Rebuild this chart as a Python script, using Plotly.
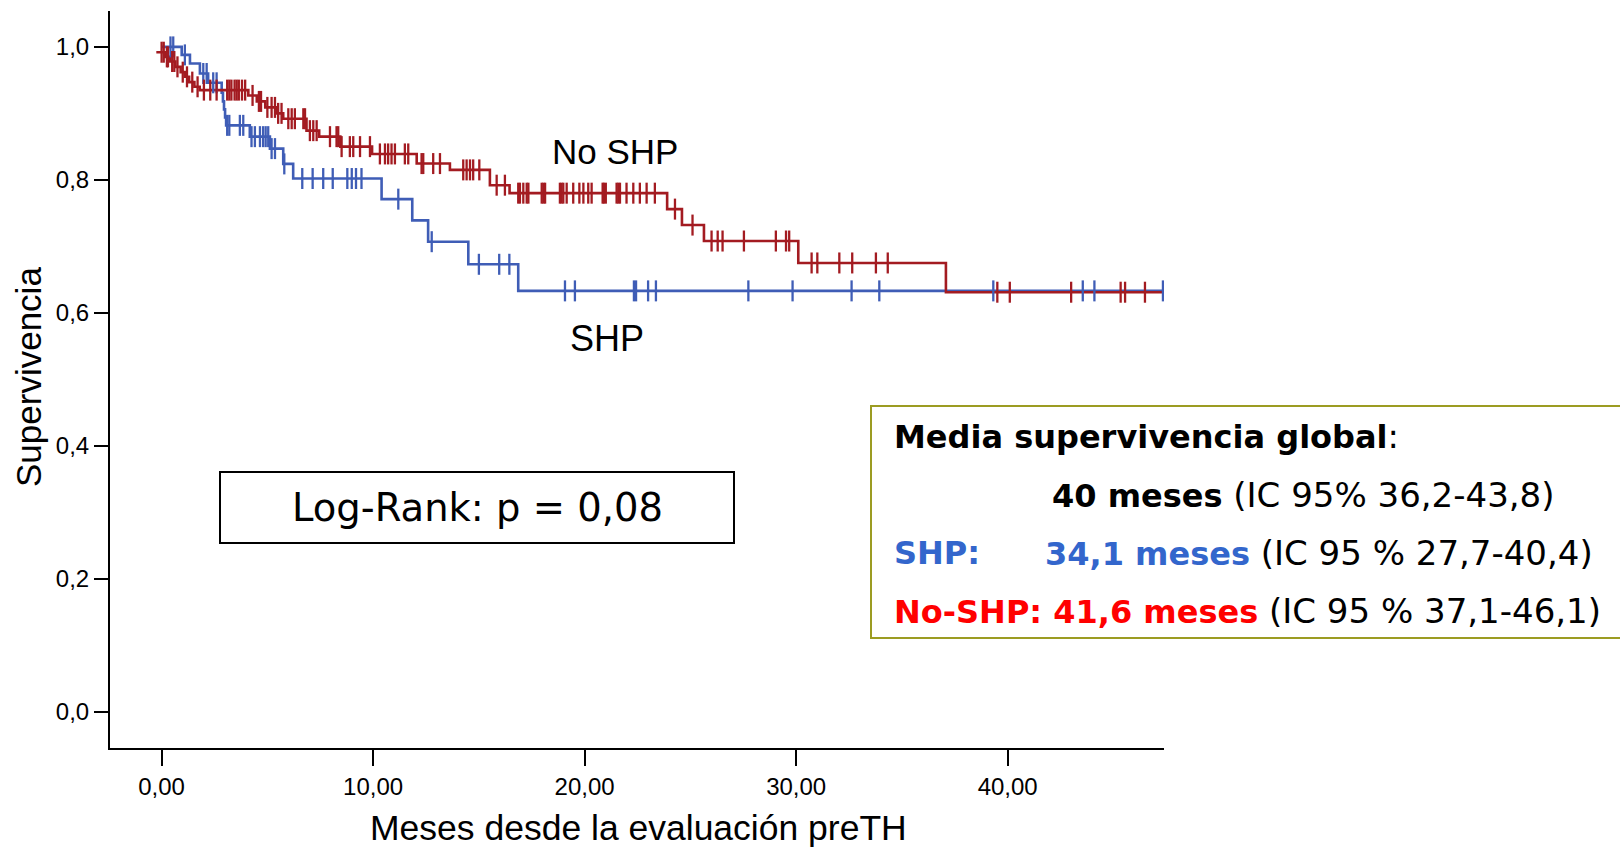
import numpy as np
import plotly.graph_objects as go

# ---------------- data ----------------
# SHP group: Kaplan-Meier step times and survival
shp_time = [0.0, 0.95, 1.34, 1.81, 2.2, 2.84, 2.9, 2.95, 3.0, 3.05, 4.17, 5.12,
            5.75, 6.22, 10.4, 11.85, 12.6, 14.5, 16.86]
shp_surv = [1.0, 0.988, 0.975, 0.960, 0.946, 0.931, 0.918, 0.906, 0.894, 0.882,
            0.865, 0.847, 0.824, 0.802, 0.771, 0.739, 0.707, 0.673, 0.633]
shp_end = 47.34
shp_censored = [0.42, 0.55, 1.1, 1.97, 2.13, 2.44, 2.6, 3.1, 3.2, 3.7, 3.86, 4.25,
                4.41, 4.65, 4.8, 4.92, 5.04, 5.2, 5.36, 5.8, 6.65, 7.14, 7.64, 8.09,
                8.78, 8.99, 9.19, 9.45, 11.19, 12.77, 15.0, 15.96, 16.44, 19.07,
                19.54, 22.33, 22.43, 23.0, 23.37, 27.74, 29.83, 32.62, 33.93, 39.32,
                43.55, 44.1, 47.34]

# No SHP group
noshp_time = [-0.25, 0.15, 0.4, 0.65, 0.9, 1.1, 1.3, 1.55, 1.8, 4.1, 4.5, 4.9, 5.4,
              5.75, 6.85, 7.45, 8.45, 9.95, 12.06, 13.63, 15.52, 16.45, 23.9, 24.6,
              25.64, 30.1, 37.08]
noshp_surv = [0.992, 0.985, 0.978, 0.970, 0.962, 0.955, 0.947, 0.940, 0.935, 0.927,
              0.918, 0.909, 0.900, 0.892, 0.874, 0.865, 0.850, 0.839, 0.8245, 0.815,
              0.792, 0.780, 0.756, 0.732, 0.708, 0.675, 0.631]
noshp_end = 47.34
noshp_censored = [0.0, 0.1, 0.25, 0.3, 0.5, 0.6, 0.75, 1.0, 1.2, 1.45, 1.7, 2.0, 2.3,
                  2.6, 3.1, 3.2, 3.3, 3.45, 3.55, 3.65, 3.8, 3.95, 4.3, 4.6, 4.7, 5.0,
                  5.2, 5.36, 5.51, 5.67, 5.99, 6.15, 6.3, 6.7, 6.78, 7.01, 7.17, 7.33,
                  7.96, 8.27, 8.35, 8.51, 8.9, 9.06, 9.38, 9.85, 10.32, 10.56, 10.71,
                  10.87, 11.03, 11.5, 11.66, 12.29, 12.37, 12.84, 13.16, 14.26, 14.42,
                  14.58, 14.73, 15.02, 15.84, 16.23, 16.86, 16.94, 17.1, 17.26, 17.34,
                  17.97, 18.05, 18.13, 18.83, 18.91, 18.99, 19.15, 19.46, 19.75, 19.94,
                  20.17, 20.33, 20.85, 20.91, 21.0, 21.51, 21.59, 21.67, 21.98, 22.3,
                  22.61, 22.93, 23.32, 24.27, 25.1, 26.0, 26.29, 26.52, 27.53, 29.04,
                  29.52, 29.67, 30.73, 31.0, 32.04, 32.65, 33.77, 34.33, 39.51, 40.1,
                  43.0, 45.34, 45.55, 46.49]

x_ticks = [0, 10, 20, 30, 40]
x_ticklabels = ["0,00", "10,00", "20,00", "30,00", "40,00"]
y_ticks = [0.0, 0.2, 0.4, 0.6, 0.8, 1.0]
y_ticklabels = ["0,0", "0,2", "0,4", "0,6", "0,8", "1,0"]

BLUE = "#3F5DB6"
RED = "#A31B21"

def step_value(times, surv, t):
    idx = np.searchsorted(np.asarray(times), t, side="right") - 1
    idx = max(idx, 0)
    return surv[idx]

fig = go.Figure()

for times, surv, end, color in [(shp_time, shp_surv, shp_end, BLUE),
                                (noshp_time, noshp_surv, noshp_end, RED)]:
    fig.add_trace(go.Scatter(x=list(times) + [end], y=list(surv) + [surv[-1]],
                             mode="lines", line=dict(color=color, width=2.6, shape="hv"),
                             hoverinfo="skip", showlegend=False))

for times, surv, cens, color in [(shp_time, shp_surv, shp_censored, BLUE),
                                 (noshp_time, noshp_surv, noshp_censored, RED)]:
    fig.add_trace(go.Scatter(x=cens, y=[step_value(times, surv, c) for c in cens],
                             mode="markers",
                             marker=dict(symbol="line-ns", size=15,
                                         line=dict(color=color, width=2.3)),
                             hoverinfo="skip", showlegend=False))

# plot area geometry (pixels)
L, R, T, B = 110, 1164, 11, 748
W, H = 1620, 847

def px(x):
    return (x - L) / (R - L)

def py(y):
    return (B - y) / (B - T)

AX_FONT = "Liberation Sans, Arial, sans-serif"
BOX_FONT = "DejaVu Sans, Verdana, sans-serif"

fig.update_layout(
    width=W, height=H,
    margin=dict(l=L, r=W - R, t=T, b=H - B),
    paper_bgcolor="white", plot_bgcolor="white",
    xaxis=dict(range=[-2.44, 47.39], tickmode="array", tickvals=x_ticks,
               ticktext=x_ticklabels, ticks="outside", ticklen=16, tickwidth=2,
               tickcolor="black", showline=True, linewidth=2, linecolor="black",
               showgrid=False, zeroline=False,
               tickfont=dict(family=AX_FONT, size=24, color="black")),
    yaxis=dict(range=[-0.0546, 1.054], tickmode="array", tickvals=y_ticks,
               ticktext=y_ticklabels, ticks="outside", ticklen=14, tickwidth=2,
               tickcolor="black", showline=True, linewidth=2, linecolor="black",
               showgrid=False, zeroline=False,
               tickfont=dict(family=AX_FONT, size=24, color="black")),
)

BOLD = "font-size:32px"
annotations = [
    dict(text="Meses desde la evaluación preTH", xref="paper", yref="paper",
         x=px(638), y=py(828), xanchor="center", yanchor="middle", showarrow=False,
         font=dict(family=AX_FONT, size=35.5, color="black")),
    dict(text="Supervivencia", xref="paper", yref="paper", x=px(29), y=py(377),
         xanchor="center", yanchor="middle", textangle=-90, showarrow=False,
         font=dict(family=AX_FONT, size=35, color="black")),
    dict(text="No SHP", xref="x", yref="y", x=21.43, y=0.842, showarrow=False,
         xanchor="center", yanchor="middle",
         font=dict(family=AX_FONT, size=35, color="black")),
    dict(text="SHP", xref="x", yref="y", x=21.08, y=0.562, showarrow=False,
         xanchor="center", yanchor="middle",
         font=dict(family=AX_FONT, size=36, color="black")),
    dict(text="Log-Rank: p = 0,08", xref="paper", yref="paper", x=px(477), y=py(507),
         showarrow=False, xanchor="center", yanchor="middle",
         font=dict(family=BOX_FONT, size=38.5, color="black")),
    dict(text=f"<b><span style='{BOLD}'>Media supervivencia global</span></b>:",
         xref="paper", yref="paper",
         x=px(892), y=py(436), showarrow=False, xanchor="left", yanchor="middle",
         font=dict(family=BOX_FONT, size=34, color="black")),
    dict(text=f"<b><span style='{BOLD}'>40 meses</span></b> (IC 95% 36,2-43,8)",
         xref="paper", yref="paper",
         x=px(1050), y=py(495), showarrow=False, xanchor="left", yanchor="middle",
         font=dict(family=BOX_FONT, size=34, color="black")),
    dict(text=f"<b><span style='{BOLD}'>SHP:</span></b>", xref="paper", yref="paper",
         x=px(892), y=py(553), showarrow=False, xanchor="left", yanchor="middle",
         font=dict(family=BOX_FONT, size=34, color="#3366CC")),
    dict(text=f"<b><span style='color:#3366CC;{BOLD}'>34,1 meses</span></b> (IC 95 % 27,7-40,4)",
         xref="paper", yref="paper",
         x=px(1043), y=py(553), showarrow=False, xanchor="left", yanchor="middle",
         font=dict(family=BOX_FONT, size=34, color="black")),
    dict(text=f"<b><span style='color:#FF0000;{BOLD}'>No-SHP: 41,6 meses</span></b> (IC 95 % 37,1-46,1)",
         xref="paper", yref="paper",
         x=px(892), y=py(611), showarrow=False, xanchor="left", yanchor="middle",
         font=dict(family=BOX_FONT, size=34, color="black")),
]
fig.update_layout(annotations=annotations)

fig.add_shape(type="rect", xref="paper", yref="paper", x0=px(220), x1=px(734),
              y0=py(543), y1=py(472), line=dict(color="black", width=2),
              fillcolor="rgba(0,0,0,0)")
fig.add_shape(type="rect", xref="paper", yref="paper", x0=px(871), x1=px(1626),
              y0=py(638), y1=py(406), line=dict(color="#9C9C22", width=2),
              fillcolor="rgba(0,0,0,0)")

fig.write_html("out.html", config={"displayModeBar": False},
               post_script="document.body.style.margin='0';document.body.style.overflow='hidden';")
